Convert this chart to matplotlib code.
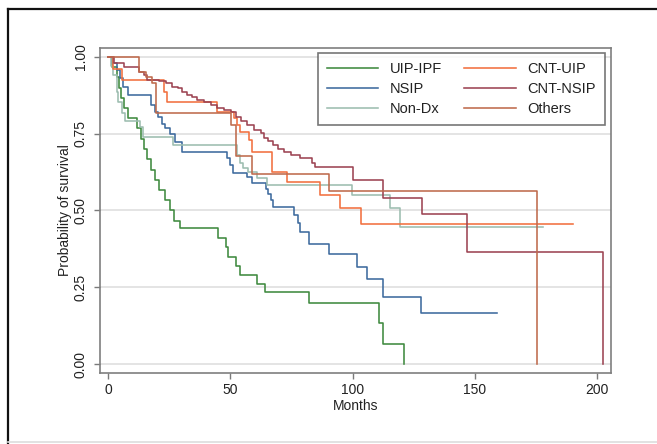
import matplotlib
matplotlib.use("Agg")
import matplotlib.pyplot as plt
from matplotlib.lines import Line2D

plt.rcParams['font.family'] = ['Liberation Sans', 'DejaVu Sans']

# ---- data (months, survival probability) ----
uip_t = [0, 1.5, 3.5, 4.5, 5.3, 6.5, 8, 12, 13.5, 14.5, 16, 17.5, 19, 21, 23.3, 25.4, 27, 29.4,
         45, 48.3, 49, 52.4, 54, 61, 64.2, 82.2, 111, 112.5, 121]
uip_s = [1.0, 0.967, 0.933, 0.90, 0.867, 0.833, 0.80, 0.767, 0.733, 0.70, 0.667, 0.633, 0.60, 0.567,
         0.533, 0.50, 0.467, 0.443, 0.41, 0.38, 0.35, 0.32, 0.29, 0.26, 0.235, 0.20, 0.133, 0.067, 0.0]

nsip_t = [0, 1.5, 3.5, 4.9, 6.3, 8.3, 17.5, 19.2, 20.6, 22, 23.3, 25.4, 27.4, 30.1, 48.5, 49.9, 51.2,
          57, 59, 64.5, 65.4, 66.5, 67.6, 76, 77.5, 78.5, 82, 90.5, 102, 105.8, 112.5, 128, 159]
nsip_s = [1.0, 0.98, 0.958, 0.93, 0.903, 0.876, 0.845, 0.82, 0.805, 0.78, 0.77, 0.75, 0.724, 0.69,
          0.67, 0.648, 0.622, 0.608, 0.59, 0.57, 0.555, 0.534, 0.51, 0.485, 0.46, 0.43, 0.39, 0.357,
          0.315, 0.277, 0.22, 0.165, 0.165]

nondx_t = [0, 1, 2.2, 3.5, 4.2, 5.6, 7, 13.1, 14.4, 26.7, 52.6, 54, 55.3, 57.4, 61, 64.9, 99.8,
           115.3, 119.4, 178]
nondx_s = [1.0, 0.97, 0.94, 0.887, 0.854, 0.816, 0.79, 0.773, 0.74, 0.713, 0.68, 0.654, 0.637,
           0.626, 0.605, 0.583, 0.55, 0.508, 0.446, 0.446]

cntuip_t = [0, 2, 5.5, 23, 24.3, 44.7, 51.5, 52.6, 54, 57.5, 58.8, 67, 73, 86.7, 95, 103.5, 190]
cntuip_s = [1.0, 0.962, 0.925, 0.887, 0.854, 0.822, 0.80, 0.778, 0.757, 0.73, 0.69, 0.626, 0.594,
            0.55, 0.508, 0.456, 0.456]

cntnsip_t = [0, 2.5, 6.5, 12.7, 14.7, 16.1, 20.9, 23.6, 26.3, 28.4, 30.4, 32.4, 34.5, 36.5, 39.3,
             42, 44.7, 47.4, 50.2, 52.2, 54.3, 57, 59.7, 62.5, 63.8, 65.5, 67.5, 69.5, 72, 75, 78.5,
             83.3, 84.7, 100.3, 112.6, 128.3, 146.7, 202.6]
cntnsip_s = [1.0, 0.98, 0.968, 0.952, 0.94, 0.925, 0.92, 0.914, 0.903, 0.898, 0.887, 0.876, 0.87,
             0.86, 0.854, 0.844, 0.833, 0.827, 0.822, 0.806, 0.79, 0.778, 0.762, 0.751, 0.735, 0.725,
             0.712, 0.70, 0.69, 0.68, 0.67, 0.654, 0.643, 0.60, 0.54, 0.49, 0.366, 0.0]

others_t = [0, 12.7, 15.4, 18.1, 19.5, 50.2, 52.2, 58.7, 90.5, 175.3]
others_s = [1.0, 0.952, 0.936, 0.914, 0.817, 0.778, 0.677, 0.62, 0.565, 0.0]

labels = ["UIP-IPF", "NSIP", "Non-Dx", "CNT-UIP", "CNT-NSIP", "Others"]
colors = ["#3f8a3f", "#3d6a9e", "#9dbdb0", "#f2703f", "#9c4352", "#bf6a4c"]
series = [(uip_t, uip_s), (nsip_t, nsip_s), (nondx_t, nondx_s),
          (cntuip_t, cntuip_s), (cntnsip_t, cntnsip_s), (others_t, others_s)]

xticks = [0, 50, 100, 150, 200]
yticks = [0.0, 0.25, 0.50, 0.75, 1.00]
yticklabels = ["0.00", "0.25", "0.50", "0.75", "1.00"]

# ---- figure ----
W, H = 657, 444
fig = plt.figure(figsize=(W / 100, H / 100), dpi=100)
fig.patch.set_facecolor("white")

# axes placement in pixels: left 100, right 611, top 48, bottom 373
ax = fig.add_axes([100 / W, 1 - 373 / H, (611 - 100) / W, (373 - 48) / H])

for (t, s), c, lab in zip(series, colors, labels):
    ax.step(t, s, where="post", color=c, lw=1.15, label=lab, zorder=3)

ax.set_xlim(-3.3, 205.7)
ax.set_ylim(-0.029, 1.029)
ax.set_xticks(xticks)
ax.set_yticks(yticks)
ax.set_yticklabels(yticklabels, rotation=90, va="center")
ax.tick_params(axis="both", direction="out", length=4, width=1.0, color="#7a7a7a",
               labelsize=10, labelcolor="#222222")
ax.tick_params(axis="x", pad=3)
ax.tick_params(axis="y", pad=5)
ax.grid(axis="y", color="#e2e2e2", lw=1.3, zorder=0)
ax.grid(axis="x", visible=False)
for sp in ax.spines.values():
    sp.set_color("#7f7f7f")
    sp.set_linewidth(1.2)

ax.set_xlabel("Months", fontsize=10, color="#222222", labelpad=2)
ax.set_ylabel("Probability of survival", fontsize=10, color="#222222", labelpad=1)

handles = [Line2D([], [], color=c, lw=1.15) for c in colors]
leg = ax.legend(handles, labels, ncol=2, loc="upper right", bbox_to_anchor=(0.988, 0.985),
                frameon=True, fancybox=False, fontsize=10.5, handlelength=3.55,
                handletextpad=0.8, columnspacing=1.5, labelspacing=0.42,
                borderpad=0.6, borderaxespad=0)
leg.get_frame().set_edgecolor("#555555")
leg.get_frame().set_linewidth(1.2)
for txt in leg.get_texts():
    txt.set_color("#222222")

# outer frame of the image
fig.add_artist(Line2D([8 / W, 1.0], [1 - 9 / H, 1 - 9 / H], color="#111111", lw=1.6,
                      transform=fig.transFigure))
fig.add_artist(Line2D([8 / W, 8 / W], [0, 1 - 9 / H], color="#111111", lw=1.6,
                      transform=fig.transFigure))
fig.add_artist(Line2D([8 / W, 1.0], [1 - 442 / H, 1 - 442 / H], color="#dddddd", lw=1.2,
                      transform=fig.transFigure))

fig.savefig("out.png", dpi=100)
